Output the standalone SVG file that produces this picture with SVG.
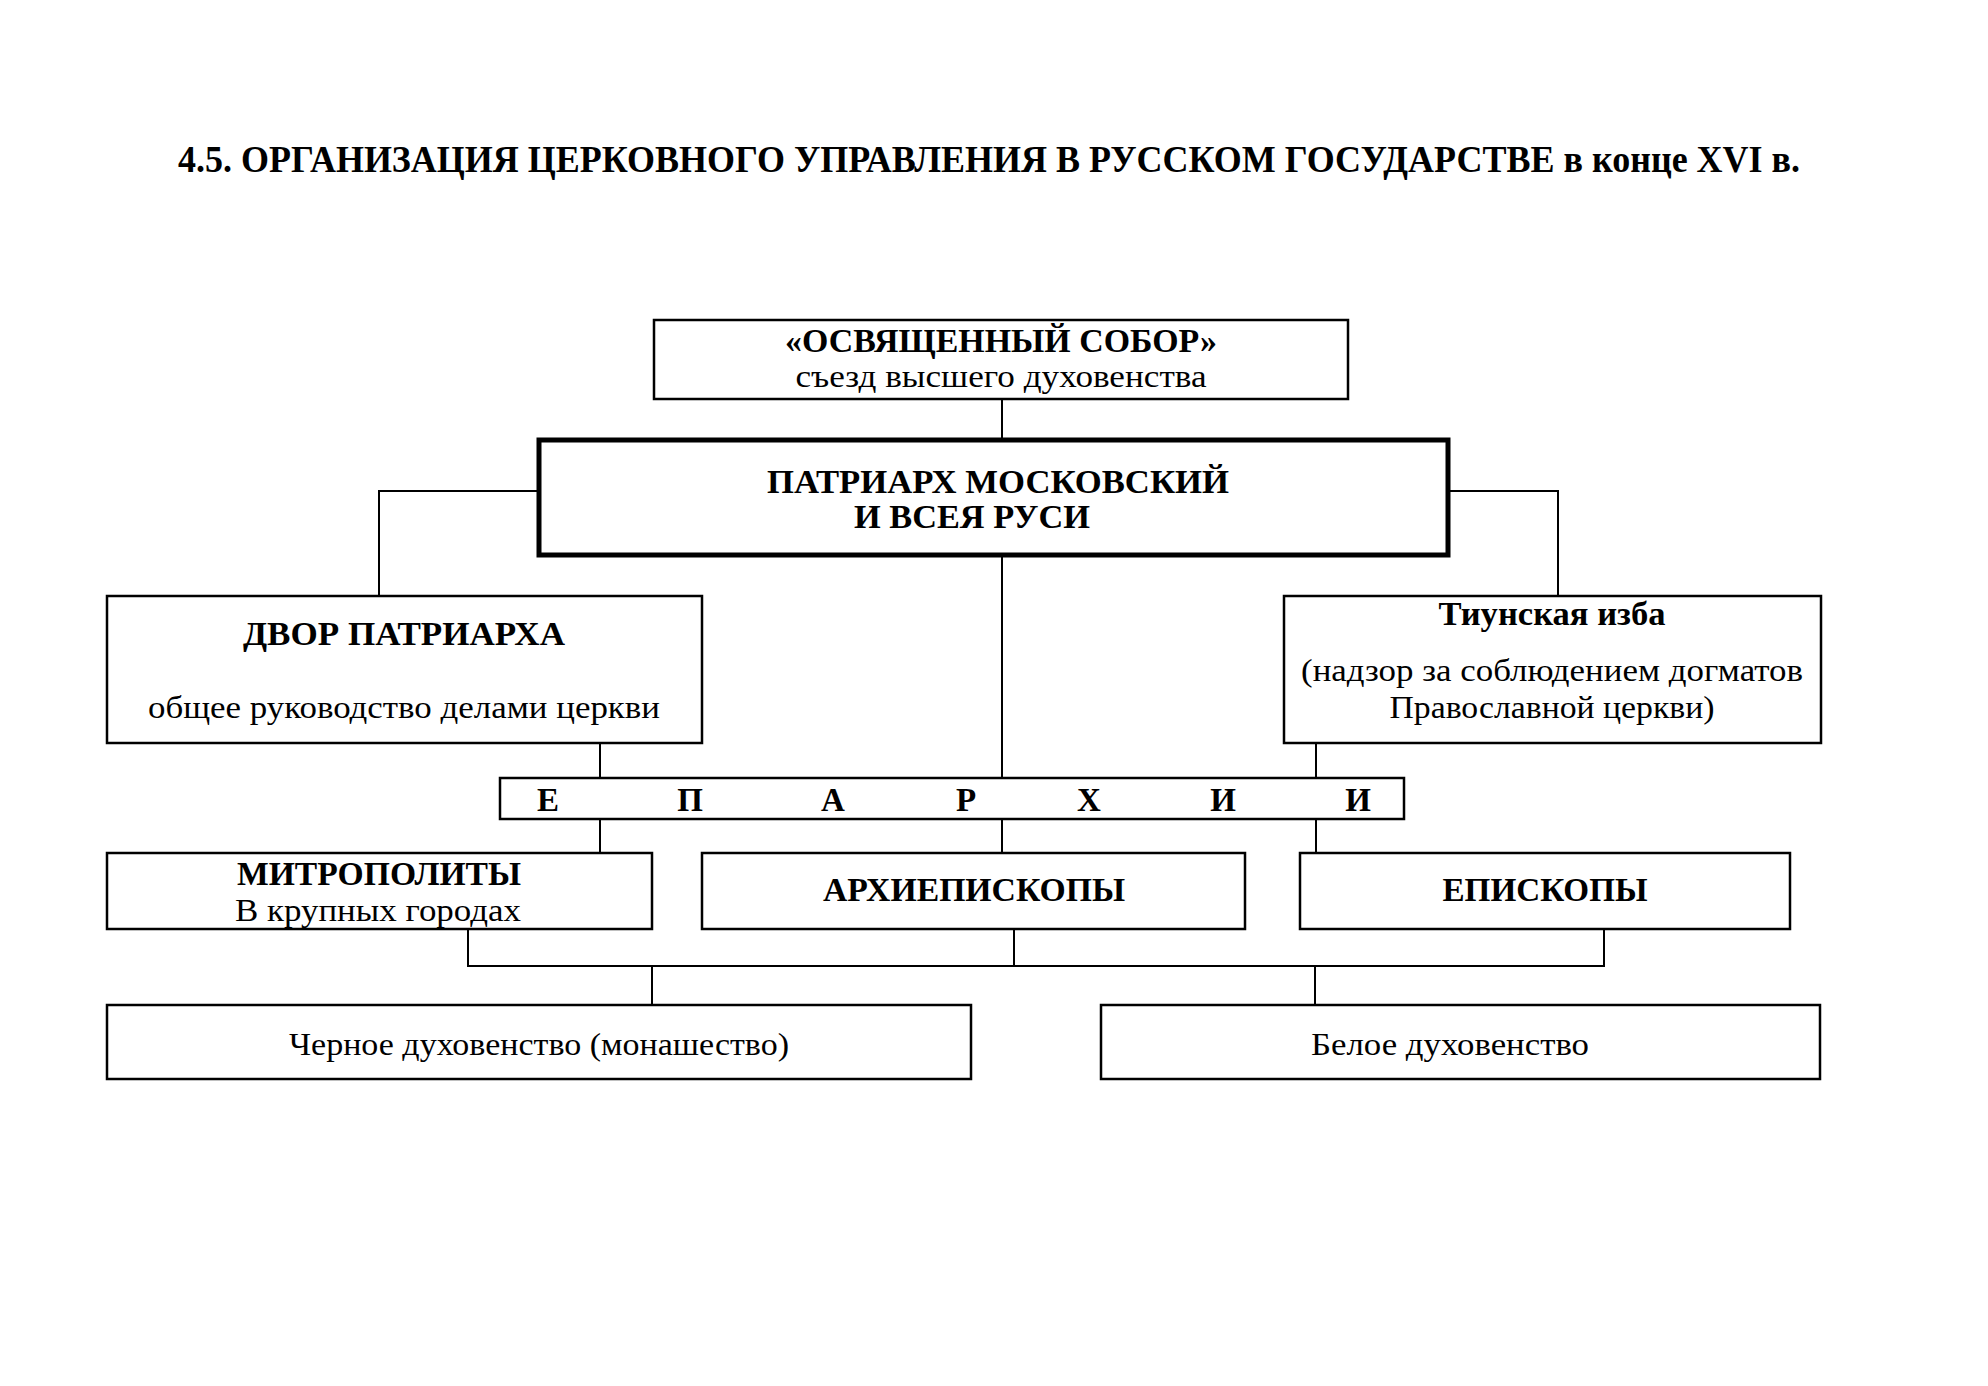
<svg xmlns="http://www.w3.org/2000/svg" width="1988" height="1386" viewBox="0 0 1988 1386">
<style>
  .bx{fill:#fff;stroke:#000;stroke-width:2.5}
  .bxt{fill:#fff;stroke:#000;stroke-width:5}
  .ln{fill:none;stroke:#000;stroke-width:2}
  text{font-family:"Liberation Serif","Times New Roman",serif;fill:#000;text-anchor:middle}
  .b{font-weight:bold;font-size:33px}
  .r{font-size:31px}
  .t{font-weight:bold;font-size:37px;text-anchor:start}
</style>
<rect width="1988" height="1386" fill="#fff"/>
<text class="t" x="178" y="172" textLength="1622" lengthAdjust="spacingAndGlyphs">4.5. ОРГАНИЗАЦИЯ ЦЕРКОВНОГО УПРАВЛЕНИЯ В РУССКОМ ГОСУДАРСТВЕ в конце XVI в.</text>
<g id="connectors">
  <path class="ln" d="M1002 399V440"/>
  <path class="ln" d="M539 491H379V596"/>
  <path class="ln" d="M1448 491H1558V596"/>
  <path class="ln" d="M1002 555V778"/>
  <path class="ln" d="M600 743V778"/>
  <path class="ln" d="M1316 743V778"/>
  <path class="ln" d="M600 819V853"/>
  <path class="ln" d="M1002 819V853"/>
  <path class="ln" d="M1316 819V853"/>
  <path class="ln" d="M468 929V966H1604V929"/>
  <path class="ln" d="M1014 929V966"/>
  <path class="ln" d="M652 966V1005"/>
  <path class="ln" d="M1315 966V1005"/>
</g>
<g id="sobor">
  <rect class="bx" x="654" y="320" width="694" height="79"/>
  <text class="b" x="1001" y="352" textLength="432" lengthAdjust="spacingAndGlyphs">«ОСВЯЩЕННЫЙ СОБОР»</text>
  <text class="r" x="1001" y="387" textLength="411" lengthAdjust="spacingAndGlyphs">съезд  высшего  духовенства</text>
</g>
<g id="patriarch">
  <rect class="bxt" x="539" y="440" width="909" height="115"/>
  <text class="b" x="998" y="493" textLength="462" lengthAdjust="spacingAndGlyphs">ПАТРИАРХ МОСКОВСКИЙ</text>
  <text class="b" x="972" y="528" textLength="236" lengthAdjust="spacingAndGlyphs">И ВСЕЯ РУСИ</text>
</g>
<g id="dvor">
  <rect class="bx" x="107" y="596" width="595" height="147"/>
  <text class="b" x="404" y="645" textLength="322" lengthAdjust="spacingAndGlyphs">ДВОР ПАТРИАРХА</text>
  <text class="r" x="404" y="718" textLength="512" lengthAdjust="spacingAndGlyphs">общее руководство делами церкви</text>
</g>
<g id="tiun">
  <rect class="bx" x="1284" y="596" width="537" height="147"/>
  <text class="b" x="1552" y="625" font-size="30" textLength="227" lengthAdjust="spacingAndGlyphs">Тиунская изба</text>
  <text class="r" x="1552" y="681" textLength="502" lengthAdjust="spacingAndGlyphs">(надзор за соблюдением догматов</text>
  <text class="r" x="1552" y="718" textLength="325" lengthAdjust="spacingAndGlyphs">Православной церкви)</text>
</g>
<g id="eparkhii">
  <rect class="bx" x="500" y="778" width="904" height="41"/>
  <text class="b" y="811" font-size="30"><tspan x="548">Е</tspan><tspan x="690">П</tspan><tspan x="833">А</tspan><tspan x="966">Р</tspan><tspan x="1089">Х</tspan><tspan x="1223">И</tspan><tspan x="1358">И</tspan></text>
</g>
<g id="mitropolity">
  <rect class="bx" x="107" y="853" width="545" height="76"/>
  <text class="b" x="379" y="885" textLength="284" lengthAdjust="spacingAndGlyphs">МИТРОПОЛИТЫ</text>
  <text class="r" x="378" y="921" textLength="286" lengthAdjust="spacingAndGlyphs">В крупных городах</text>
</g>
<g id="arkhiepiskopy">
  <rect class="bx" x="702" y="853" width="543" height="76"/>
  <text class="b" x="974" y="901" textLength="302" lengthAdjust="spacingAndGlyphs">АРХИЕПИСКОПЫ</text>
</g>
<g id="episkopy">
  <rect class="bx" x="1300" y="853" width="490" height="76"/>
  <text class="b" x="1545" y="901" textLength="205" lengthAdjust="spacingAndGlyphs">ЕПИСКОПЫ</text>
</g>
<g id="chernoe">
  <rect class="bx" x="107" y="1005" width="864" height="74"/>
  <text class="r" x="539" y="1055" textLength="500" lengthAdjust="spacingAndGlyphs">Черное духовенство (монашество)</text>
</g>
<g id="beloe">
  <rect class="bx" x="1101" y="1005" width="719" height="74"/>
  <text class="r" x="1450" y="1055" textLength="278" lengthAdjust="spacingAndGlyphs">Белое духовенство</text>
</g>
</svg>
